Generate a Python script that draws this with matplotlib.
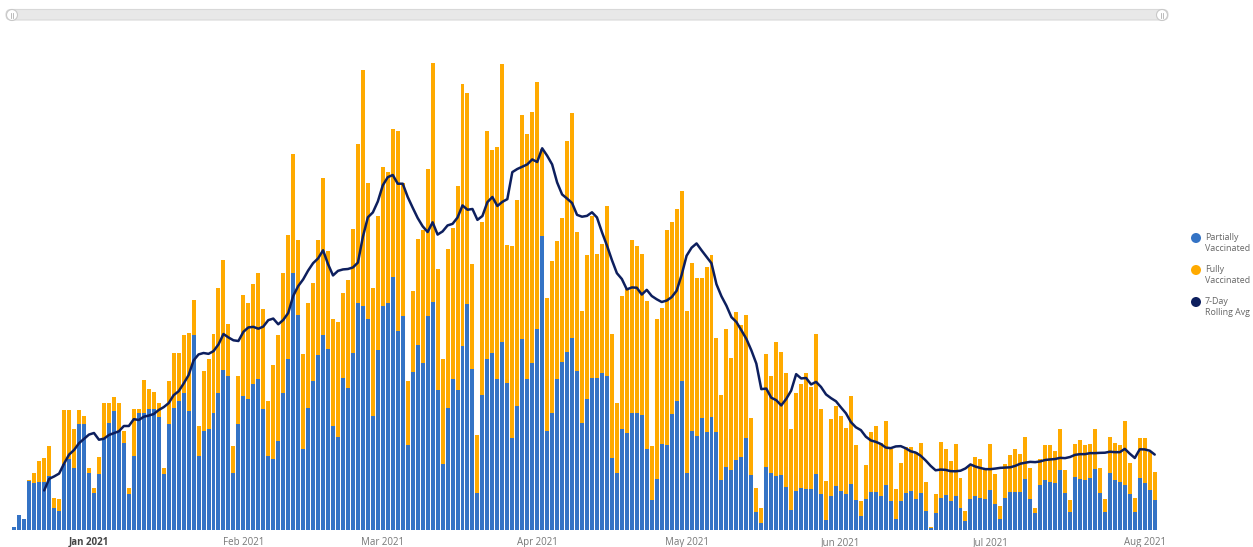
import matplotlib
matplotlib.use("Agg")
import matplotlib.pyplot as plt
import matplotlib.dates as mdates
from matplotlib.patches import FancyBboxPatch, Circle
import numpy as np
import pandas as pd

plt.rcParams["font.family"] = ["Open Sans", "DejaVu Sans"]

# Daily vaccinations, 17 Dec 2020 - 3 Aug 2021
start_date = "2020-12-17"
total_daily = [
    3, 15, 11, 50, 57, 69, 72, 84, 32, 31,
    120, 120, 101, 120, 114, 62, 42, 73, 127, 127,
    133, 127, 99, 42, 121, 121, 150, 141, 138, 127,
    62, 149, 177, 177, 195, 197, 230, 104, 159, 171,
    196, 242, 270, 206, 84, 154, 235, 227, 246, 257,
    221, 129, 165, 195, 257, 295, 376, 290, 176, 227,
    247, 290, 352, 279, 211, 208, 237, 250, 301, 386,
    460, 347, 242, 314, 363, 358, 401, 399, 347, 149,
    239, 291, 300, 361, 467, 261, 171, 281, 302, 344,
    446, 437, 266, 95, 308, 399, 380, 383, 466, 285,
    284, 330, 415, 396, 418, 448, 381, 232, 269, 289,
    312, 389, 417, 298, 219, 275, 314, 276, 286, 324,
    196, 127, 234, 241, 290, 284, 276, 229, 84, 211,
    222, 300, 308, 321, 339, 219, 267, 252, 252, 263,
    275, 192, 135, 201, 172, 218, 205, 215, 112, 42,
    22, 176, 154, 188, 178, 157, 101, 137, 146, 157,
    143, 196, 121, 49, 111, 124, 114, 102, 134, 85,
    29, 65, 98, 104, 87, 109, 81, 41, 67, 83,
    83, 78, 87, 48, 3, 36, 88, 81, 69, 86,
    52, 19, 64, 73, 71, 61, 86, 56, 24, 66,
    75, 81, 76, 93, 62, 22, 71, 85, 85, 79,
    101, 60, 30, 86, 90, 85, 86, 101, 62, 31,
    93, 87, 85, 109, 67, 32, 92, 92, 78, 58,
]
partially_vaccinated = [
    3, 15, 11, 49, 47, 48, 48, 54, 22, 19,
    66, 71, 62, 106, 106, 57, 37, 56, 91, 107,
    119, 99, 87, 36, 74, 117, 117, 121, 121, 113,
    56, 106, 122, 129, 137, 119, 195, 74, 99, 101,
    117, 137, 160, 154, 57, 106, 134, 131, 146, 151,
    121, 74, 71, 89, 137, 171, 257, 215, 81, 122,
    149, 175, 195, 181, 104, 93, 152, 142, 177, 227,
    224, 211, 114, 180, 224, 227, 253, 199, 214, 85,
    158, 185, 167, 214, 228, 140, 66, 122, 151, 140,
    184, 226, 161, 37, 135, 171, 177, 151, 188, 147,
    92, 124, 191, 151, 167, 201, 294, 99, 117, 151,
    168, 178, 192, 159, 107, 131, 152, 152, 157, 154,
    72, 57, 101, 97, 117, 117, 115, 81, 30, 51,
    86, 85, 116, 129, 149, 57, 99, 94, 112, 98,
    113, 98, 50, 63, 60, 70, 73, 92, 55, 18,
    7, 63, 57, 54, 55, 43, 20, 39, 42, 41,
    41, 56, 36, 10, 34, 44, 39, 36, 46, 30,
    14, 31, 38, 38, 34, 45, 29, 11, 29, 37,
    39, 31, 37, 19, 2, 17, 32, 35, 29, 34,
    22, 9, 31, 34, 32, 31, 40, 26, 11, 32,
    38, 38, 38, 51, 31, 17, 45, 50, 48, 47,
    60, 37, 18, 53, 51, 50, 52, 61, 37, 18,
    57, 50, 48, 45, 36, 18, 52, 47, 40, 30,
]
month_ticks = ["2021-01-01", "2021-02-01", "2021-03-01", "2021-04-01",
               "2021-05-01", "2021-06-01", "2021-07-01", "2021-08-01"]
month_labels = ["Jan 2021", "Feb 2021", "Mar 2021", "Apr 2021",
                "May 2021", "Jun 2021", "Jul 2021", "Aug 2021"]
legend_labels = ["Partially\nVaccinated", "Fully\nVaccinated", "7-Day\nRolling Avg"]

BLUE = "#3473c5"
ORANGE = "#ffaa00"
NAVY = "#0d1f5e"

dates = pd.date_range(start_date, periods=len(total_daily), freq="D")
total = pd.Series(total_daily, index=dates, dtype=float)
partial = pd.Series(partially_vaccinated, index=dates, dtype=float)
fully = total - partial
rolling = total.rolling(7).mean()

W, H = 1253, 547
fig = plt.figure(figsize=(W / 100, H / 100), dpi=100)
fig.patch.set_facecolor("white")

# Overlay in pixel units for the range slider and the legend
ui = fig.add_axes([0, 0, 1, 1])
ui.set_xlim(0, W)
ui.set_ylim(H, 0)
ui.axis("off")

slider = FancyBboxPatch((6, 9.5), 1162, 10.5,
                        boxstyle="round,pad=0,rounding_size=5",
                        fc="#e8e8e8", ec="#d8d8d8", lw=0.8)
ui.add_patch(slider)
for hx in (12, 1162):
    ui.add_patch(Circle((hx, 15), 5.5, fc="white", ec="#c8c8c8", lw=0.8, zorder=3))
    for dx in (-1.2, 1.2):
        ui.plot([hx + dx, hx + dx], [12.5, 17.5], color="#b0b0b0", lw=0.6, zorder=4)

legend_colors = [BLUE, ORANGE, NAVY]
for k, (lab, col) in enumerate(zip(legend_labels, legend_colors)):
    cy = 238 + 32 * k
    ui.add_patch(Circle((1196, cy), 5, fc=col, ec="none"))
    ui.text(1205, cy - 5, lab, fontsize=6.4, color="#666666",
            va="top", ha="left", linespacing=1.35)

# Main bar chart
ax = fig.add_axes([8 / W, 17 / H, (1170 - 8) / W, 480 / H])
ax.patch.set_alpha(0)
x = mdates.date2num(dates)
ax.bar(x, partial.values, width=0.8, color=BLUE, linewidth=0, zorder=2)
ax.bar(x, fully.values, bottom=partial.values, width=0.8, color=ORANGE,
       linewidth=0, zorder=2)
ax.plot(x, rolling.values, color=NAVY, lw=1.8, zorder=3,
        solid_capstyle="round", solid_joinstyle="round")

ax.set_xlim(x[0] - 1.265, x[0] + 232.07)
ax.set_ylim(0, 480)
ax.set_yticks([])
for s in ax.spines.values():
    s.set_visible(False)

tick_pos = mdates.date2num(pd.to_datetime(month_ticks))
ax.set_xticks(tick_pos)
ax.set_xticklabels(month_labels)
ax.tick_params(axis="x", length=0, pad=5, labelsize=7, labelcolor="#777777")
for t in ax.get_xticklabels():
    if t.get_text().startswith("Jan"):
        t.set_fontweight("bold")
        t.set_color("#444444")

fig.savefig("out.png", dpi=100, facecolor="white")
